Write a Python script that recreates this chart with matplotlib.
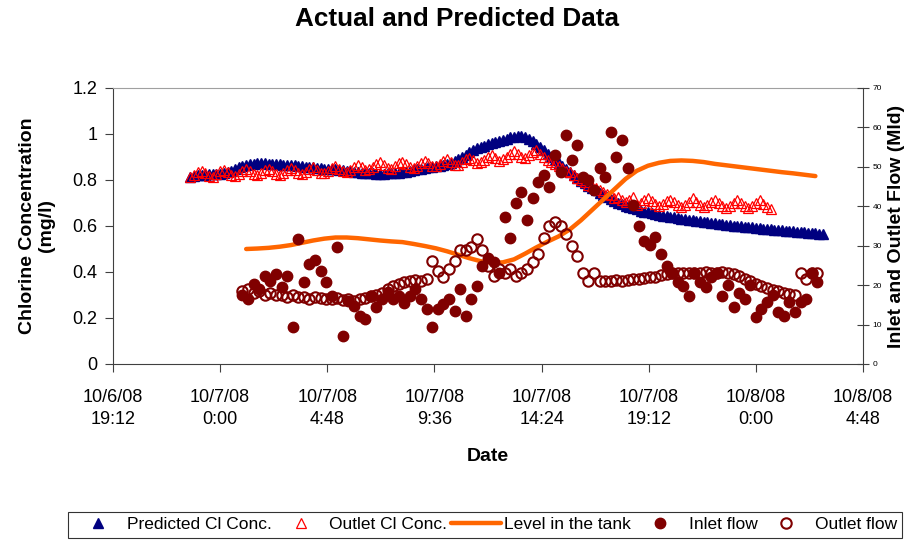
import numpy as np
import pandas as pd
import matplotlib
matplotlib.use("Agg")
import matplotlib.pyplot as plt
import matplotlib.dates as mdates
from matplotlib.ticker import FuncFormatter

plt.rcParams['font.family'] = ['Liberation Sans', 'DejaVu Sans']

# ---- data ----
# chlorine series: one reading every 10 minutes from 10/6/08 22:40
cl_start = '2008-10-06 22:40'
predicted_cl = [
    0.815, 0.817, 0.82, 0.82, 0.822, 0.824,
    0.825, 0.825, 0.826, 0.83, 0.836, 0.84,
    0.848, 0.855, 0.862, 0.866, 0.87, 0.871,
    0.872, 0.872, 0.872, 0.871, 0.87, 0.869,
    0.868, 0.867, 0.866, 0.865, 0.864, 0.862,
    0.86, 0.858, 0.857, 0.855, 0.853, 0.851,
    0.85, 0.849, 0.848, 0.846, 0.845, 0.843,
    0.84, 0.838, 0.836, 0.834, 0.832, 0.831,
    0.83, 0.829, 0.828, 0.828, 0.828, 0.829,
    0.83, 0.831, 0.832, 0.834, 0.836, 0.84,
    0.845, 0.848, 0.85, 0.852, 0.855, 0.858,
    0.86, 0.862, 0.865, 0.869, 0.875, 0.882,
    0.89, 0.9, 0.91, 0.92, 0.93, 0.938,
    0.945, 0.95, 0.955, 0.96, 0.965, 0.97,
    0.975, 0.98, 0.985, 0.988, 0.99, 0.99,
    0.985, 0.978, 0.97, 0.958, 0.945, 0.93,
    0.915, 0.9, 0.885, 0.872, 0.86, 0.848,
    0.835, 0.822, 0.81, 0.797, 0.785, 0.775,
    0.765, 0.755, 0.745, 0.735, 0.725, 0.718,
    0.71, 0.702, 0.695, 0.688, 0.682, 0.677,
    0.672, 0.667, 0.663, 0.659, 0.655, 0.651,
    0.648, 0.645, 0.642, 0.64, 0.637, 0.635,
    0.632, 0.63, 0.627, 0.625, 0.622, 0.62,
    0.618, 0.616, 0.614, 0.612, 0.61, 0.608,
    0.606, 0.604, 0.602, 0.6, 0.599, 0.597,
    0.596, 0.594, 0.592, 0.59, 0.589, 0.587,
    0.586, 0.584, 0.583, 0.581, 0.58, 0.578,
    0.577, 0.575, 0.574, 0.572, 0.571, 0.569,
    0.568, 0.566, 0.565,
]
outlet_cl = [
    0.811, 0.821, 0.834, 0.841, 0.831, 0.818,
    0.815, 0.825, 0.838, 0.845, 0.835, 0.822,
    0.817, 0.827, 0.84, 0.847, 0.837, 0.824,
    0.82, 0.83, 0.843, 0.85, 0.84, 0.827,
    0.822, 0.832, 0.845, 0.852, 0.842, 0.829,
    0.825, 0.835, 0.848, 0.855, 0.845, 0.832,
    0.83, 0.84, 0.853, 0.86, 0.85, 0.837,
    0.835, 0.845, 0.858, 0.865, 0.855, 0.842,
    0.847, 0.857, 0.87, 0.877, 0.867, 0.854,
    0.85, 0.86, 0.873, 0.88, 0.87, 0.857,
    0.853, 0.863, 0.876, 0.883, 0.873, 0.86,
    0.86, 0.87, 0.883, 0.89, 0.88, 0.867,
    0.867, 0.877, 0.89, 0.897, 0.887, 0.874,
    0.877, 0.887, 0.9, 0.907, 0.897, 0.884,
    0.89, 0.9, 0.913, 0.925, 0.915, 0.9,
    0.897, 0.91, 0.922, 0.93, 0.915, 0.9,
    0.885, 0.878, 0.87, 0.86, 0.852, 0.84,
    0.835, 0.82, 0.81, 0.8, 0.79, 0.78,
    0.775, 0.765, 0.755, 0.748, 0.74, 0.735,
    0.72, 0.728, 0.715, 0.705, 0.712, 0.725,
    0.69, 0.7, 0.713, 0.72, 0.71, 0.697,
    0.685, 0.695, 0.708, 0.715, 0.705, 0.692,
    0.683, 0.693, 0.706, 0.72, 0.703, 0.69,
    0.681, 0.691, 0.704, 0.711, 0.701, 0.688,
    0.679, 0.689, 0.702, 0.715, 0.699, 0.686,
    0.677, 0.687, 0.7, 0.712, 0.697, 0.684,
    0.675,
]

# tank level: every 30 minutes from 10/7/08 1:10
level_start = '2008-10-07 01:10'
tank_level = [
    0.500, 0.502, 0.505, 0.510, 0.517, 0.527, 0.537, 0.545, 0.550, 0.550,
    0.547, 0.542, 0.537, 0.533, 0.530, 0.522, 0.513, 0.503, 0.490, 0.475,
    0.460, 0.447, 0.440, 0.442, 0.455, 0.480, 0.507, 0.532, 0.555, 0.585,
    0.625, 0.670, 0.715, 0.760, 0.805, 0.840, 0.862, 0.875, 0.883, 0.885,
    0.883, 0.878, 0.870, 0.864, 0.858, 0.852, 0.846, 0.840, 0.834, 0.829,
    0.823, 0.817,
]

# flows (Mld): every 15 minutes from 10/7/08 1:00
flow_start = '2008-10-07 01:00'
inlet_flow = [
    17.5, 16.4, 20.2, 19.0, 22.2, 21.0, 22.7, 19.5, 22.2, 9.3,
    31.6, 20.7, 25.3, 26.5, 23.5, 20.7, 17.2, 29.6, 7.1, 16.0,
    14.7, 12.1, 11.4, 17.2, 14.5, 16.4, 18.2, 16.4, 17.2, 15.5,
    17.2, 19.0, 16.4, 13.9, 9.3, 13.9, 15.2, 16.4, 13.5, 19.0,
    12.1, 16.4, 19.7, 24.8, 27.0, 25.8, 23.0, 37.4, 32.0, 40.9,
    43.5, 36.6, 42.2, 46.2, 48.0, 45.0, 53.0, 48.8, 58.1, 51.8,
    55.6, 47.5, 46.7, 44.2, 49.8, 47.5, 58.9, 52.6, 56.9, 49.8,
    40.4, 34.9, 31.1, 30.3, 32.3, 27.8, 24.8, 23.2, 20.7, 19.7,
    17.2, 23.2, 20.7, 19.5, 22.0, 23.2, 17.2, 20.0, 14.4, 18.0,
    16.4, 20.0, 11.9, 13.9, 15.7, 17.5, 13.1, 12.1, 15.7, 13.1,
    15.7, 16.4, 23.2, 20.7,
]
outlet_flow = [
    18.5, 19.0, 18.0, 18.5, 17.5, 18.0, 17.5, 17.5, 17.0, 17.5,
    17.0, 17.0, 16.5, 17.0, 16.8, 16.5, 16.5, 16.8, 16.2, 16.5,
    16.0, 16.5, 16.8, 17.2, 17.5, 18.0, 19.0, 19.7, 20.2, 20.7,
    21.0, 21.2, 21.0, 21.5, 26.0, 23.5, 22.0, 24.0, 26.0, 29.0,
    29.0, 29.8, 31.6, 29.0, 24.8, 22.2, 24.0, 23.0, 24.0, 22.2,
    23.0, 24.0, 25.8, 28.0, 32.0, 35.0, 36.0, 35.0, 33.0, 30.0,
    27.3, 23.0, 21.0, 23.0, 21.0, 21.0, 21.0, 21.2, 21.0, 21.3,
    21.5, 21.5, 21.8, 22.0, 22.0, 22.5, 22.8, 23.0, 23.2, 23.0,
    23.0, 23.2, 23.0, 23.3, 23.2, 23.0, 23.3, 23.0, 22.8, 22.2,
    21.5, 21.0, 20.2, 19.7, 19.2, 18.8, 18.4, 18.0, 17.7, 17.5,
    23.2, 21.5, 23.0, 23.2,
]

pred_t = pd.date_range(cl_start, periods=len(predicted_cl), freq='10min')
outcl_t = pd.date_range(cl_start, periods=len(outlet_cl), freq='10min')
level_t = pd.date_range(level_start, periods=len(tank_level), freq='30min')
flow_t = pd.date_range(flow_start, periods=len(inlet_flow), freq='15min')

maroon = '#800000'

fig = plt.figure(figsize=(9.09, 5.41), dpi=100)
ax = fig.add_axes([113 / 909, 1 - 364 / 541, 750 / 909, 276 / 541])
ax2 = ax.twinx()

ax.plot(pred_t, predicted_cl, ls='none', marker='^', ms=7, color='#000080',
        mec='#000080', label='Predicted Cl Conc.')
ax.plot(outcl_t, outlet_cl, ls='none', marker='^', ms=7.5, mfc='none',
        mec='#ff0000', mew=0.9, label='Outlet Cl Conc.')
ax.plot(level_t, tank_level, color='#ff6600', lw=3.2,
        solid_capstyle='round', label='Level in the tank')
ax2.plot(flow_t, inlet_flow, ls='none', marker='o', ms=7.5, color=maroon,
         label='Inlet flow')
ax2.plot(flow_t, outlet_flow, ls='none', marker='o', ms=7.5, mfc='none',
         mec=maroon, mew=1.5, label='Outlet flow')

# x axis: 10/6/08 19:12 to 10/8/08 4:48, ticks every 4.8 hours
xticks = pd.date_range('2008-10-06 19:12', '2008-10-08 04:48', freq='288min')
ax.set_xlim(xticks[0], xticks[-1])
ax.set_xticks(xticks)


def date_fmt(x, pos):
    d = pd.Timestamp(mdates.num2date(x)).round('min')
    return f"{d.month}/{d.day}/{d:%y}\n{d.hour}:{d.minute:02d}"


ax.xaxis.set_major_formatter(FuncFormatter(date_fmt))

ax.set_ylim(0, 1.2)
ax.set_yticks([0, 0.2, 0.4, 0.6, 0.8, 1.0, 1.2])
ax.set_yticklabels(['0', '0.2', '0.4', '0.6', '0.8', '1', '1.2'])
ax2.set_ylim(0, 70)
ax2.set_yticks(range(0, 71, 10))

ax.tick_params(axis='y', direction='out', length=6, labelsize=13, pad=5,
               color='#404040')
ax.tick_params(axis='x', direction='out', length=6, labelsize=13, pad=12,
               color='#404040')
for lbl in ax.get_xticklabels():
    lbl.set_linespacing(1.4)
ax2.tick_params(axis='y', direction='inout', length=8, labelsize=6, pad=3,
                color='#404040')

for s in ['left', 'bottom']:
    ax.spines[s].set_color('#404040')
ax.spines['right'].set_visible(False)
ax.spines['top'].set_color('#a0a0a0')
ax2.spines['right'].set_color('#404040')
for s in ['left', 'bottom', 'top']:
    ax2.spines[s].set_visible(False)

ax.set_ylabel('Chlorine Concentration\n(mg/l)', fontsize=14, fontweight='bold')
ax.yaxis.set_label_coords(-0.077, 0.5)
ax2.set_ylabel('Inlet and Outlet Flow (Mld)', fontsize=14, fontweight='bold')
ax2.yaxis.set_label_coords(1.033, 0.5)
ax.set_xlabel('Date', fontsize=14, fontweight='bold')
ax.xaxis.set_label_coords(0.5, -0.305)

fig.suptitle('Actual and Predicted Data', x=0.503, y=1 - 7 / 541,
             fontsize=18.8, fontweight='bold', va='top')

h1, l1 = ax.get_legend_handles_labels()
h2, l2 = ax2.get_legend_handles_labels()
leg = fig.legend(h1 + h2, l1 + l2, loc='upper left',
                 bbox_to_anchor=(68 / 909, 1 - 512 / 541), ncol=5,
                 frameon=True, fancybox=False, edgecolor='black',
                 borderaxespad=0, fontsize=12.5, handlelength=2.9,
                 handletextpad=0.2, columnspacing=0.2, borderpad=0.3,
                 numpoints=1)
leg.get_frame().set_linewidth(0.8)

fig.savefig('out.png', dpi=100, facecolor='white')
